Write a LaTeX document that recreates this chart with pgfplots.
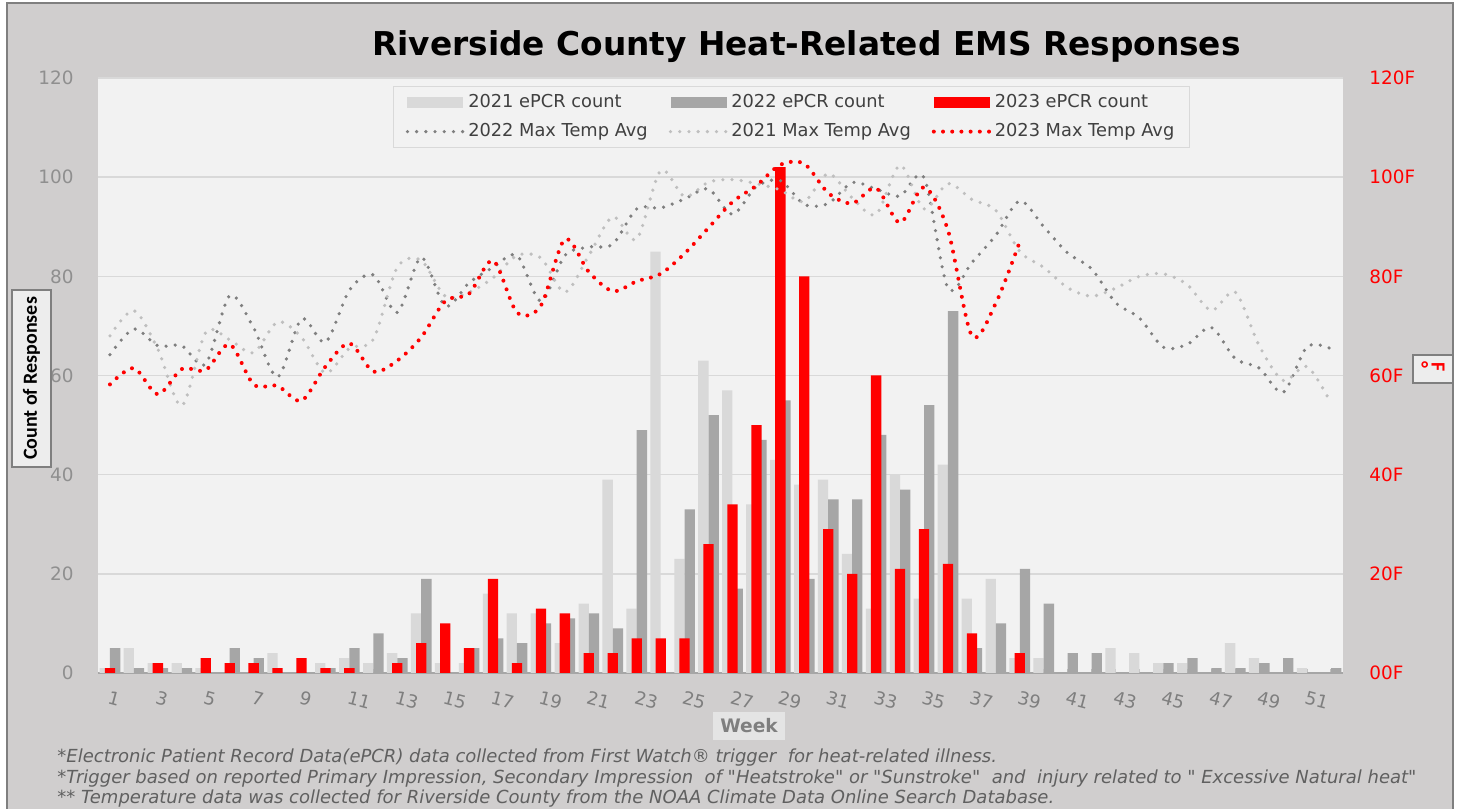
\documentclass[border=0pt]{standalone}
\usepackage{fontspec}
\setmainfont{DejaVu Sans}
\newfontfamily\carlito{Carlito}
\usepackage{pgfplots}
\usepackage{pgfplotstable}
\pgfplotsset{compat=1.18}
\definecolor{bg}{HTML}{D0CECE}
\definecolor{plotbg}{HTML}{F2F2F2}
\definecolor{c21}{HTML}{D9D9D9}
\definecolor{c22}{HTML}{A6A6A6}
\definecolor{t22}{HTML}{7F7F7F}
\definecolor{t21}{HTML}{BFBFBF}
\definecolor{gridc}{HTML}{D9D9D9}
\definecolor{tickc}{HTML}{8F8F8F}
\definecolor{boxc}{HTML}{EDEDED}
\definecolor{notec}{HTML}{606060}

\pgfplotstableread{
week c21 c22 c23 t22 t21 t23
1 1 5 1 64.2 68.0 58.2
2 5 1 0 69.4 73.1 61.5
3 2 1 2 66.0 65.3 56.2
4 2 1 0 66.0 53.9 61.3
5 1 0 3 62.3 68.7 61.1
6 0 5 2 76.1 67.2 66.3
7 0 3 2 69.6 64.6 58.2
8 4 0 1 59.7 70.8 57.9
9 0 0 3 71.4 67.7 54.9
10 2 1 1 66.7 60.5 61.8
11 3 5 1 77.2 65.5 66.5
12 2 8 0 80.3 67.3 60.8
13 4 3 2 72.7 81.8 63.0
14 12 19 6 83.8 83.2 67.7
15 2 0 10 74.0 76.0 75.0
16 2 5 5 78.7 76.8 76.5
17 16 7 19 81.8 79.7 83.2
18 12 6 2 84.2 84.2 72.7
19 12 10 13 75.0 83.7 74.1
20 6 11 12 84.2 76.8 87.5
21 14 12 4 85.9 84.2 80.9
22 39 9 4 86.5 92.0 77.0
23 13 49 7 93.6 87.5 79.0
24 85 0 7 93.8 101.3 80.5
25 23 33 7 95.6 96.1 84.6
26 63 52 26 97.6 99.0 89.8
27 57 17 34 92.5 99.5 95.0
28 34 47 50 98.1 98.7 98.3
29 43 55 102 99.3 97.4 102.5
30 38 19 80 94.5 95.1 102.7
31 39 35 29 94.7 100.7 96.8
32 24 35 20 98.9 95.8 94.7
33 13 48 60 97.6 92.5 97.8
34 40 37 21 96.2 102.4 90.8
35 15 54 29 99.9 93.6 98.0
36 42 73 22 77.6 98.7 89.3
37 15 5 8 82.8 95.5 68.0
38 19 10 0 88.3 93.3 74.6
39 3 21 4 95.2 85.0 87.0
40 3 14 0 90.0 81.8 nan
41 0 4 0 84.7 77.7 nan
42 0 4 0 81.5 76.0 nan
43 5 0 0 74.7 77.6 nan
44 4 0 0 71.6 80.0 nan
45 2 2 0 65.7 80.5 nan
46 2 3 0 66.3 78.3 nan
47 0 1 0 69.7 73.1 nan
48 6 1 0 63.4 76.8 nan
49 3 2 0 61.5 66.0 nan
50 0 3 0 56.6 59.0 nan
51 1 0 0 65.8 61.8 nan
52 0 1 0 65.4 54.4 nan
}\data

\pgfplotsset{
  barleg/.style={legend image code/.code={\fill[##1] (0bp,-2.6bp) rectangle (28bp,2.6bp);}},
  lineleg/.style={legend image code/.code={\draw[##1] (0bp,0bp) -- (28bp,0bp);}},
  dots/.style={line width=1.8bp, dash pattern=on 0pt off 4.6bp, line cap=round, smooth, tension=0.5},
}

\begin{document}
\begin{tikzpicture}
\useasboundingbox (0,0) rectangle (730bp,404.5bp);
\fill[white] (0,0) rectangle (730bp,404.5bp);
\filldraw[fill=bg, draw=t22, line width=1bp] (3.5bp,-5bp) rectangle (726.5bp,403bp);

\begin{axis}[
  at={(49bp,68bp)}, anchor=south west,
  scale only axis, width=622.5bp, height=297.5bp,
  xmin=0.5, xmax=52.5, ymin=0, ymax=120,
  axis background/.style={fill=plotbg},
  axis x line*=bottom, axis y line*=left,
  y axis line style={draw=none},
  x axis line style={draw=c22, line width=0.8bp},
  ymajorgrids, major grid style={draw=gridc, line width=0.8bp},
  ytick={0,20,...,120},
  yticklabels={0,20,40,60,80,100,120},
  ytick style={draw=none},
  yticklabel style={anchor=east, inner sep=0pt, text=tickc, font=\fontsize{9.2bp}{11bp}\selectfont},
  yticklabel shift=12bp,
  xtick={1,...,52},
  xticklabels={1,,3,,5,,7,,9,,11,,13,,15,,17,,19,,21,,23,,25,,27,,29,,31,,33,,35,,37,,39,,41,,43,,45,,47,,49,,51,},
  tick align=inside, major tick length=2.2bp,
  xtick style={draw=t21, line width=0.6bp},
  xticklabel style={rotate=-15, anchor=north west, inner sep=0pt, text=t22, font=\fontsize{9bp}{11bp}\selectfont},
  xticklabel shift=8.5bp,
  /pgf/number format/assume math mode=true,
  legend columns=3, legend cell align=left,
  legend style={at={(0.237,0.987)}, anchor=north west, draw=gridc, fill=plotbg, line width=0.6bp,
    font=\fontsize{8.9bp}{10.5bp}\selectfont, text=black!75, inner xsep=6bp, inner ysep=2.5bp,
    nodes={inner sep=1.5bp}, row sep=3.5bp,
    /tikz/every even column/.append style={column sep=9bp}},
]
\addplot[ybar, bar width=0.43, bar shift=-0.215, fill=c21, draw=none, barleg] table[x=week,y=c21]{\data};
\addlegendentry{2021 ePCR count}
\addplot[ybar, bar width=0.43, bar shift=0.215, fill=c22, draw=none, barleg] table[x=week,y=c22]{\data};
\addlegendentry{2022 ePCR count}
\addplot[ybar, bar width=0.43, bar shift=0, fill=red, draw=none, barleg] table[x=week,y=c23]{\data};
\addlegendentry{2023 ePCR count}
\addplot[t22, dots, lineleg] table[x=week,y=t22]{\data};
\addlegendentry{2022 Max Temp Avg}
\addplot[t21, dots, lineleg] table[x=week,y=t21]{\data};
\addlegendentry{2021 Max Temp Avg}
\addplot[red, dots, line width=2bp, lineleg] table[x=week,y=t23]{\data};
\addlegendentry{2023 Max Temp Avg}
\end{axis}

\begin{axis}[
  at={(49bp,68bp)}, anchor=south west,
  scale only axis, width=622.5bp, height=297.5bp,
  xmin=0.5, xmax=52.5, ymin=0, ymax=120,
  axis x line=none, axis y line*=right,
  y axis line style={draw=none},
  ytick={0,20,...,120},
  yticklabels={00F,20F,40F,60F,80F,100F,120F},
  ytick style={draw=none},
  yticklabel style={anchor=west, inner sep=0pt, text=red, font=\fontsize{9.2bp}{11bp}\selectfont},
  yticklabel shift=13bp,
]
\addplot[draw=none] coordinates {(1,0)};
\end{axis}

\node[font=\bfseries\fontsize{16.4bp}{19bp}\selectfont] at (403.25bp,381bp) {Riverside County Heat-Related EMS Responses};

\node[fill=boxc, draw=t22, line width=0.6bp, rotate=90, minimum width=88.5bp, minimum height=19.5bp, inner sep=0pt,
  font=\carlito\bfseries\fontsize{10bp}{12bp}\selectfont] at (15.75bp,215.25bp) {Count of Responses};

\node[fill=boxc, draw=t22, line width=0.6bp, minimum width=20bp, minimum height=14bp, inner sep=0pt, text=red,
  font=\carlito\bfseries\fontsize{10bp}{12bp}\selectfont] at (716.5bp,220bp) {\raisebox{-1bp}{°}\,\rotatebox[origin=c]{-90}{F}};

\node[fill=c21!70!white, minimum width=36bp, minimum height=14bp, inner sep=0pt, text=t22,
  font=\bfseries\fontsize{9.3bp}{11bp}\selectfont] at (374.5bp,41.5bp) {Week};

\begin{scope}[every node/.style={anchor=west, inner sep=0pt, text=notec, font=\itshape\fontsize{9bp}{10.5bp}\selectfont}]
\node at (28.5bp,25.5bp) {*Electronic Patient Record Data(ePCR) data collected from First Watch® trigger\ \ for heat-related illness.};
\node at (28.5bp,15bp) {*Trigger based on reported Primary Impression, Secondary Impression\ \ of \textquotedbl Heatstroke\textquotedbl{} or \textquotedbl Sunstroke\textquotedbl\ \ and\ \ injury related to \textquotedbl{} Excessive Natural heat\textquotedbl};
\node at (28.5bp,5bp) {** Temperature data was collected for Riverside County from the NOAA Climate Data Online Search Database.};
\end{scope}
\end{tikzpicture}
\end{document}
